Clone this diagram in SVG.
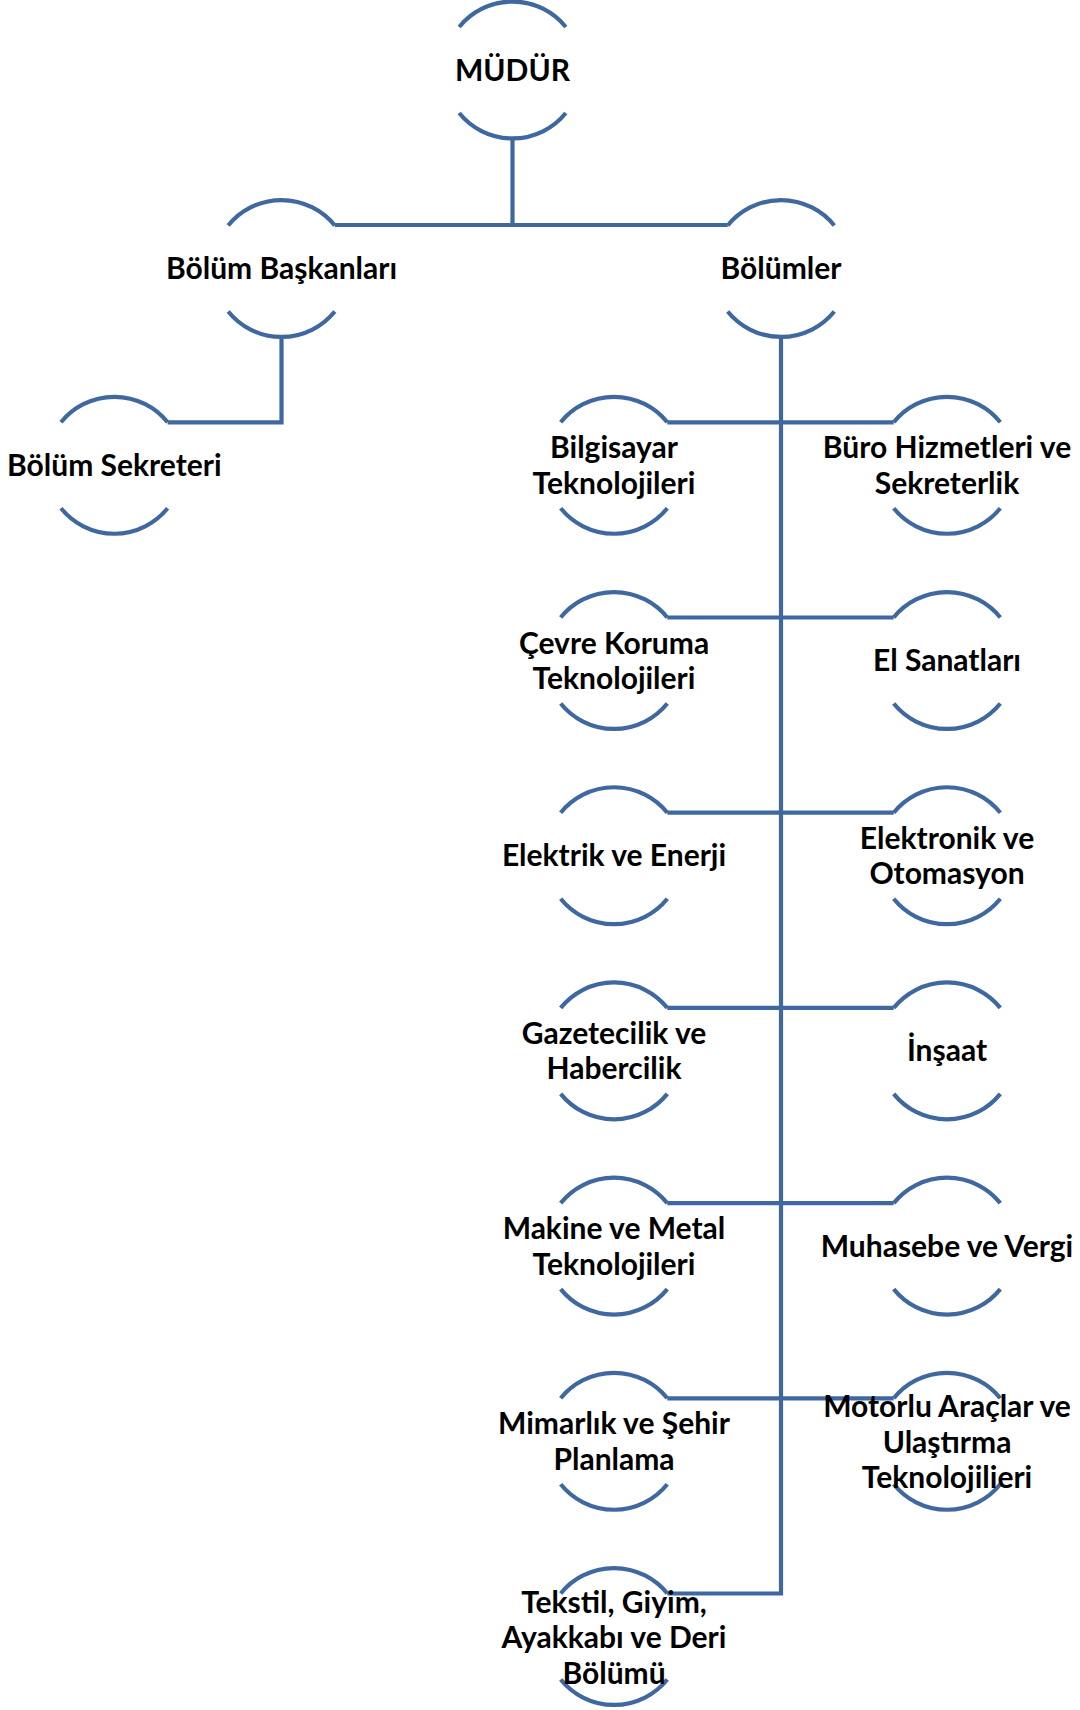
<svg xmlns="http://www.w3.org/2000/svg" xmlns:xlink="http://www.w3.org/1999/xlink" width="1080" height="1710" viewBox="0 0 1080 1710">
<style>
.ring{fill:none;stroke:#4068A0;stroke-width:4.2;stroke-linecap:butt}
.conn{fill:none;stroke:#4068A0;stroke-width:4.2;stroke-linejoin:miter;stroke-linecap:butt}
.lbl{font-family:Lato,"Liberation Sans",sans-serif;font-weight:700;font-size:30px;fill:#000;text-anchor:middle}
</style>
<defs>
<path id="ring" class="ring" d="M-53.3 -43 A68.5 68.5 0 0 1 53.3 -43 M-53.3 43 A68.5 68.5 0 0 0 53.3 43"/>
</defs>
<rect width="1080" height="1710" fill="#fff"/>
<g id="connectors" class="conn">
<path d="M512.5 138.5 V225"/>
<path d="M334.8 225 H727.7"/>
<path d="M281.5 337 V422.3 H167.6"/>
<path d="M781 337 V1593.5 H667.3"/>
<path d="M667.3 422.3 H893.7"/>
<path d="M667.3 617.5 H893.7"/>
<path d="M667.3 812.7 H893.7"/>
<path d="M667.3 1007.9 H893.7"/>
<path d="M667.3 1203.1 H893.7"/>
<path d="M667.3 1398.3 H893.7"/>
</g>
<g id="n-mudur"><use xlink:href="#ring" x="512.5" y="70"/><text class="lbl" x="512.5" y="80.5">MÜDÜR</text></g>
<g id="n-bolum-baskanlari"><use xlink:href="#ring" x="281.5" y="268.5"/><text class="lbl" x="281.5" y="279">Bölüm Başkanları</text></g>
<g id="n-bolumler"><use xlink:href="#ring" x="781" y="268.5"/><text class="lbl" x="781" y="279">Bölümler</text></g>
<g id="n-bolum-sekreteri"><use xlink:href="#ring" x="114.3" y="465.3"/><text class="lbl" x="114.3" y="475.8">Bölüm Sekreteri</text></g>

<g id="n-bilgisayar"><use xlink:href="#ring" x="614" y="465.3"/><text class="lbl" x="614" y="458.3">Bilgisayar</text><text class="lbl" x="614" y="493.8">Teknolojileri</text></g>
<g id="n-buro"><use xlink:href="#ring" x="947" y="465.3"/><text class="lbl" x="947" y="458.3">Büro Hizmetleri ve</text><text class="lbl" x="947" y="493.8">Sekreterlik</text></g>

<g id="n-cevre"><use xlink:href="#ring" x="614" y="660.5"/><text class="lbl" x="614" y="653.5">Çevre Koruma</text><text class="lbl" x="614" y="689">Teknolojileri</text></g>
<g id="n-el-sanatlari"><use xlink:href="#ring" x="947" y="660.5"/><text class="lbl" x="947" y="671">El Sanatları</text></g>

<g id="n-elektrik"><use xlink:href="#ring" x="614" y="855.7"/><text class="lbl" x="614" y="866.2">Elektrik ve Enerji</text></g>
<g id="n-elektronik"><use xlink:href="#ring" x="947" y="855.7"/><text class="lbl" x="947" y="848.7">Elektronik ve</text><text class="lbl" x="947" y="884.2">Otomasyon</text></g>

<g id="n-gazetecilik"><use xlink:href="#ring" x="614" y="1050.9"/><text class="lbl" x="614" y="1043.9">Gazetecilik ve</text><text class="lbl" x="614" y="1079.4">Habercilik</text></g>
<g id="n-insaat"><use xlink:href="#ring" x="947" y="1050.9"/><text class="lbl" x="947" y="1061.4">İnşaat</text></g>

<g id="n-makine"><use xlink:href="#ring" x="614" y="1246.1"/><text class="lbl" x="614" y="1239.1">Makine ve Metal</text><text class="lbl" x="614" y="1274.6">Teknolojileri</text></g>
<g id="n-muhasebe"><use xlink:href="#ring" x="947" y="1246.1"/><text class="lbl" x="947" y="1256.6">Muhasebe ve Vergi</text></g>

<g id="n-mimarlik"><use xlink:href="#ring" x="614" y="1441.3"/><text class="lbl" x="614" y="1434.3">Mimarlık ve Şehir</text><text class="lbl" x="614" y="1469.8">Planlama</text></g>
<g id="n-motorlu"><use xlink:href="#ring" x="947" y="1441.3"/><text class="lbl" x="947" y="1417.3">Motorlu Araçlar ve</text><text class="lbl" x="947" y="1452.8">Ulaştırma</text><text class="lbl" x="947" y="1488.3">Teknolojilieri</text></g>

<g id="n-tekstil"><use xlink:href="#ring" x="614" y="1636.5"/><text class="lbl" x="614" y="1612.5">Tekstil, Giyim,</text><text class="lbl" x="614" y="1648">Ayakkabı ve Deri</text><text class="lbl" x="614" y="1683.5">Bölümü</text></g>
</svg>
